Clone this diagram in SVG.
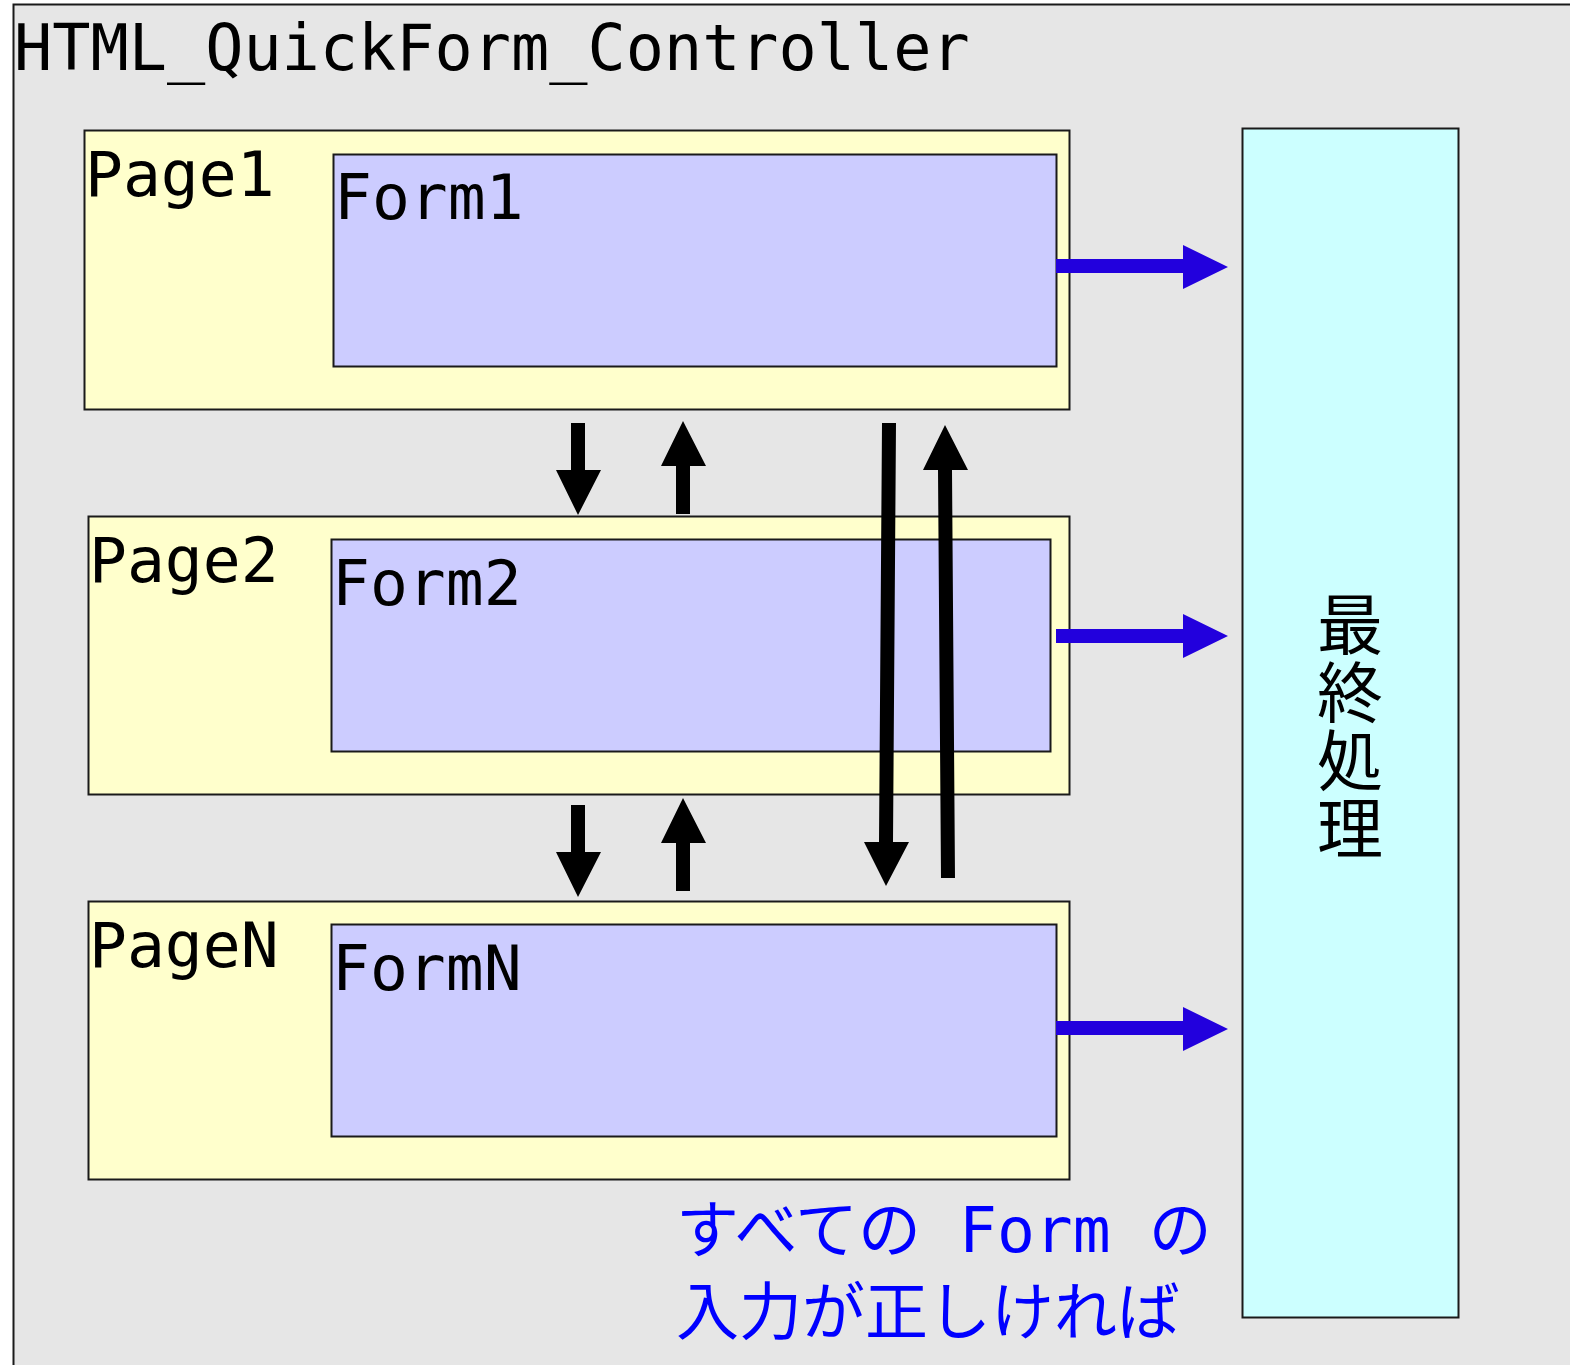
<svg xmlns="http://www.w3.org/2000/svg" width="1570" height="1365" viewBox="0 0 1570 1365">
<style>
.box{stroke:#1a1a1a;stroke-width:2}
.mono{font-family:"DejaVu Sans Mono","Noto Sans CJK JP",monospace;fill:#000}
.cjk{font-family:"Noto Sans CJK JP",sans-serif;fill:#000}
.blue{fill:#2200dd}
.blk{fill:#000}
</style>
<rect x="0" y="0" width="1570" height="1365" fill="#ffffff"/>
<g id="controller">
<rect class="box" x="13.5" y="4.5" width="1600" height="1400" fill="#e6e6e6"/>
<text class="mono" x="14" y="70" font-size="63.5">HTML_QuickForm_Controller</text>
</g>
<g id="page1">
<rect class="box" x="84.5" y="130.5" width="985" height="279" fill="#ffffcc"/>
<text class="mono" x="85" y="196" font-size="63">Page1</text>
</g>
<g id="form1">
<rect class="box" x="333.5" y="154.5" width="723" height="212" fill="#ccccff"/>
<text class="mono" x="334" y="219" font-size="63">Form1</text>
</g>
<g id="page2">
<rect class="box" x="88.5" y="516.5" width="981" height="278" fill="#ffffcc"/>
<text class="mono" x="89" y="582" font-size="63">Page2</text>
</g>
<g id="form2">
<rect class="box" x="331.5" y="539.5" width="719" height="212" fill="#ccccff"/>
<text class="mono" x="332" y="605" font-size="63">Form2</text>
</g>
<g id="pageN">
<rect class="box" x="88.5" y="901.5" width="981" height="278" fill="#ffffcc"/>
<text class="mono" x="89" y="967" font-size="63">PageN</text>
</g>
<g id="formN">
<rect class="box" x="331.5" y="924.5" width="725" height="212" fill="#ccccff"/>
<text class="mono" x="332" y="990" font-size="63">FormN</text>
</g>
<g id="final">
<rect class="box" x="1242.5" y="128.5" width="216" height="1189" fill="#ccffff"/>
<text class="cjk" x="1350" y="591" font-size="66" letter-spacing="2" writing-mode="vertical-rl">最終処理</text>
</g>
<g id="connectors">
<polygon class="blue" points="1056,259 1183,259 1183,245 1228,267 1183,289 1183,273 1056,273"/>
<polygon class="blue" points="1056,629 1183,629 1183,614 1228,636 1183,658 1183,643 1056,643"/>
<polygon class="blue" points="1056,1021 1183,1021 1183,1007 1228,1029 1183,1051 1183,1035 1056,1035"/>
<polygon class="blk" points="571,423 585,423 585,470 601,470 578,515 556,470 571,470"/>
<polygon class="blk" points="676,514 690,514 690,466 706,466 683,421 661,466 676,466"/>
<polygon class="blk" points="571,805 585,805 585,852 601,852 578,897 556,852 571,852"/>
<polygon class="blk" points="676,891 690,891 690,843 706,843 683,798 661,843 676,843"/>
<polygon class="blk" points="882,423 896,423 893,842 909,842 886,886 864,842 879,842"/>
<polygon class="blk" points="941,878 955,878 952,470 968,470 945,425 923,470 938,470"/>
</g>
<g id="note">
<text x="676" y="1252" font-size="63" style="font-family:'DejaVu Sans Mono','Noto Sans CJK JP',monospace;fill:#0000ff" xml:space="preserve">すべての Form の</text>
<text x="676" y="1334" font-size="63" style="font-family:'DejaVu Sans Mono','Noto Sans CJK JP',monospace;fill:#0000ff">入力が正しければ</text>
</g>
</svg>
